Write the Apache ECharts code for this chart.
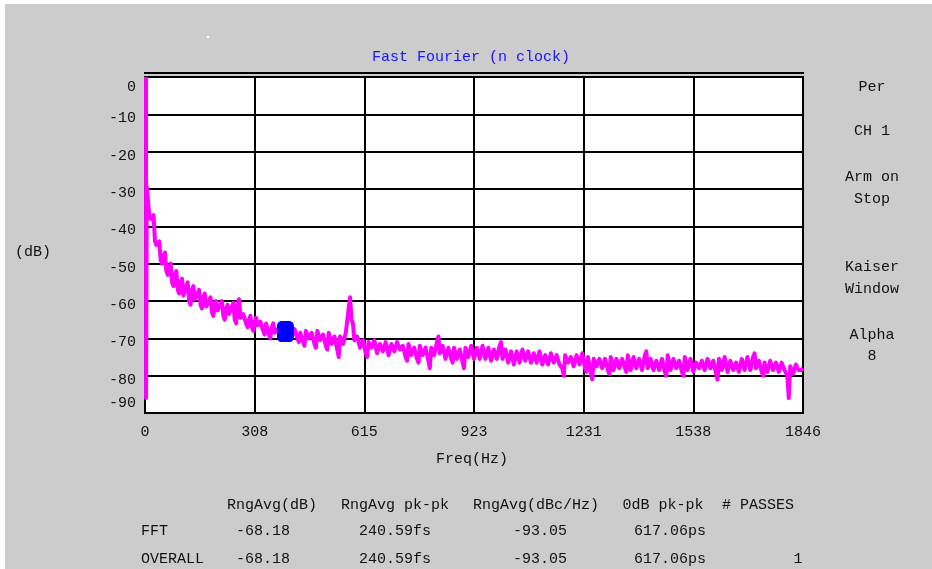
<!DOCTYPE html>
<html>
<head>
<meta charset="utf-8">
<script src="https://cdn.jsdelivr.net/npm/echarts@6/dist/echarts.min.js"></script>
<style>
html,body{margin:0;padding:0;background:#fff;}
#chart{width:932px;height:569px;}
</style>
</head>
<body>
<div id="chart"></div>
<script>
// ---- data ----
const yTickValues = [0, -10, -20, -30, -40, -50, -60, -70, -80, -90];
const xTickLabels = ['0', '308', '615', '923', '1231', '1538', '1846'];
const freqMax = 1846;

// DC line and start of trace (Hz, dB)
const startFreq = [3, 3, 5];
const startDb = [0, -86, -29.5];

// noise trace, readings at uniformly spaced bins up to 1846 Hz (dB)
const traceDb = [
  -30, -38, -37, -45, -44, -50, -47, -53, -50, -56,
  -52, -58, -54, -59, -55, -61, -56, -60, -57, -62,
  -58, -62, -59, -64, -60, -63, -60, -65, -61, -64,
  -60.5, -66, -59.5, -65, -63, -67, -64, -68, -64.5, -67,
  -65, -69, -65.5, -70, -66, -69, -67, -70, -66.5, -69.5,
  -67, -70, -67, -71, -68, -72, -67.5, -70.5, -68, -72.5,
  -67.5, -71, -68.5, -73, -68, -72, -69, -75, -69, -72,
  -68, -59, -66, -70, -69, -73, -70, -75, -70.5, -73,
  -70, -74.5, -71, -73, -70.5, -75, -71, -74, -70.5, -73.5,
  -71.5, -76, -71, -74, -72, -76.5, -71.5, -74, -72, -78,
  -72, -74, -69.5, -74.5, -71.5, -75, -72, -76.5, -72, -75,
  -72.5, -78, -72, -75.5, -71.5, -75, -72, -76, -71.5, -75,
  -72, -76.5, -72.5, -75, -71, -76, -72.5, -76, -73, -77.5,
  -73, -76, -72.5, -76.5, -73, -77, -73.5, -76, -73, -77.5,
  -74, -76.5, -73.5, -77, -74, -76.5, -80, -74, -77, -74.5,
  -78, -74, -76.5, -73.5, -79, -74.5, -81, -75, -78, -75,
  -77.5, -75, -79.5, -74.5, -78, -75, -77.5, -75, -79, -74,
  -78, -74.5, -78.5, -75, -78, -73.5, -78.5, -75, -79, -75.5,
  -78, -75, -80, -74, -78, -75, -77.5, -75.5, -80, -74.5,
  -78, -75, -79.5, -76, -78.5, -75.5, -78, -75, -78.5, -75.5,
  -81, -75, -79, -74.5, -78.5, -75.5, -79, -76, -79.5, -75,
  -78, -74.5, -79, -74, -78.5, -75.5, -80, -76, -78.5, -75.5,
  -79, -76, -79.5, -76, -79, -86, -77, -80, -76.5, -79,
  -78
];

// readings halfway between the bins above (dB)
const traceDbMid = [
  -37, -38, -44, -45, -49, -48, -52, -51, -55, -53,
  -57, -55, -58.5, -56, -60, -57, -59.5, -58, -61, -59,
  -61.5, -60, -63, -61, -62.5, -61, -64, -62, -63.5, -61.5,
  -65, -61, -64.5, -63.5, -66, -65, -67, -65.5, -66.5, -65.5,
  -68, -66, -69, -67, -68.5, -67.5, -69, -67, -69, -67.5,
  -69.5, -67.5, -70, -68.5, -71, -68, -70, -68.5, -71.5, -68,
  -70.5, -69, -72, -68.5, -71.5, -69.5, -73, -69.5, -71.5, -68.5,
  -62, -65, -70.5, -69.5, -72.5, -70.5, -74, -71, -72.5, -70.5,
  -74, -71.5, -73.5, -71, -74.5, -71.5, -73.5, -71, -73, -72,
  -75, -71.5, -74.5, -72.5, -75.5, -72, -74.5, -72.5, -76, -72.5,
  -74.5, -71, -74, -72, -75.5, -72.5, -75.5, -72.5, -75.5, -73,
  -76.5, -72.5, -75, -72, -75.5, -72.5, -75.5, -72, -75.5, -72.5,
  -76, -73, -75.5, -72, -75.5, -73, -76.5, -73.5, -77, -73.5,
  -76.5, -73, -76, -73.5, -76.5, -74, -76.5, -73.5, -77, -74.5,
  -77, -74, -76.5, -74.5, -77, -78, -74.5, -76.5, -75, -77.5,
  -74.5, -77, -74, -78, -75, -79, -75.5, -77.5, -75.5, -78,
  -75.5, -78.5, -75, -78.5, -75.5, -78, -75.5, -78, -74.5, -78.5,
  -75, -78, -75.5, -78.5, -74.5, -78, -75.5, -78.5, -76, -78.5,
  -75.5, -79, -74.5, -78.5, -75.5, -78, -76, -79, -75, -78.5,
  -75.5, -79, -76.5, -78, -76, -78.5, -75.5, -78, -76, -79.5,
  -75.5, -78.5, -75, -79, -76, -78.5, -76.5, -79, -75.5, -78.5,
  -75, -78.5, -75, -78, -76, -79, -76.5, -79, -76, -78.5,
  -76.5, -79, -76.5, -78.5, -80, -77.5, -79.5, -77, -78.5, -78.5
];

// highlighted marker (Hz, dB)
const markerFreq = [394];
const markerDb = [-68.18];

// side annotations
const sideLabels = ['Per', 'CH 1', 'Arm on', 'Stop', 'Kaiser', 'Window', 'Alpha', '8'];
const tableHeaders = ['RngAvg(dB)', 'RngAvg pk-pk', 'RngAvg(dBc/Hz)', '0dB pk-pk', '# PASSES'];
const tableRowNames = ['FFT', 'OVERALL'];
const tableRowFFT = ['-68.18', '240.59fs', '-93.05', '617.06ps', ''];
const tableRowOverall = ['-68.18', '240.59fs', '-93.05', '617.06ps', '1'];

// ---- build ----
const FONT = '"Liberation Mono", "DejaVu Sans Mono", monospace';
const FS = 15;
const traceStep = freqMax / traceDb.length;
const traceData = [];
for (let i = 0; i < startFreq.length; i++) traceData.push([startFreq[i], startDb[i]]);
for (let i = 0; i < traceDb.length; i++) {
  traceData.push([(i + 1) * traceStep, traceDb[i]]);
  if (i < traceDbMid.length) traceData.push([(i + 1.5) * traceStep, traceDbMid[i]]);
}
const markerData = markerFreq.map((f, i) => [f, markerDb[i]]);

const GRID = {left: 145, right: 129, top: 77, bottom: 156};

const sideY = [87, 131, 177, 199, 267, 289, 335, 356];
const headerX = [272, 395, 536, 663, 758];
const valueX = [263, 395, 540, 670, 798];

const graphics = [];
graphics.push({type: 'rect', shape: {x: 0, y: 0, width: 932, height: 4}, style: {fill: '#ffffff'}});
graphics.push({type: 'rect', shape: {x: 0, y: 0, width: 5, height: 569}, style: {fill: '#ffffff'}});
graphics.push({type: 'rect', shape: {x: 207, y: 36, width: 2, height: 2}, style: {fill: '#ffffff'}});
graphics.push({type: 'line', shape: {x1: 144, y1: 73, x2: 804, y2: 73}, style: {stroke: '#000', lineWidth: 2}});
graphics.push({type: 'text', x: 471, y: 57, style: {text: 'Fast Fourier (n clock)', fill: '#1414ff', font: FS + 'px ' + FONT, textAlign: 'center', textVerticalAlign: 'middle'}});
graphics.push({type: 'text', x: 33, y: 252, style: {text: '(dB)', fill: '#111', font: FS + 'px ' + FONT, textAlign: 'center', textVerticalAlign: 'middle'}});
graphics.push({type: 'text', x: 472, y: 459, style: {text: 'Freq(Hz)', fill: '#111', font: FS + 'px ' + FONT, textAlign: 'center', textVerticalAlign: 'middle'}});
sideLabels.forEach((t, i) => {
  graphics.push({type: 'text', x: 872, y: sideY[i], style: {text: t, fill: '#111', font: FS + 'px ' + FONT, textAlign: 'center', textVerticalAlign: 'middle'}});
});
tableHeaders.forEach((t, i) => {
  graphics.push({type: 'text', x: headerX[i], y: 505, style: {text: t, fill: '#111', font: FS + 'px ' + FONT, textAlign: 'center', textVerticalAlign: 'middle'}});
});
const rowY = [531, 559];
tableRowNames.forEach((t, r) => {
  graphics.push({type: 'text', x: 141, y: rowY[r], style: {text: t, fill: '#111', font: FS + 'px ' + FONT, textAlign: 'left', textVerticalAlign: 'middle'}});
});
[tableRowFFT, tableRowOverall].forEach((row, r) => {
  row.forEach((t, i) => {
    if (!t) return;
    graphics.push({type: 'text', x: valueX[i], y: rowY[r], style: {text: t, fill: '#111', font: FS + 'px ' + FONT, textAlign: 'center', textVerticalAlign: 'middle'}});
  });
});

const chart = echarts.init(document.getElementById('chart'), null, {renderer: 'canvas'});
chart.setOption({
  animation: false,
  backgroundColor: '#cccccc',
  textStyle: {fontFamily: FONT},
  grid: Object.assign({show: true, backgroundColor: '#ffffff', borderColor: '#000', borderWidth: 2, containLabel: false}, GRID),
  xAxis: {
    type: 'value', min: 0, max: freqMax, interval: freqMax / (xTickLabels.length - 1),
    axisLine: {show: false}, axisTick: {show: false},
    splitLine: {show: true, lineStyle: {color: '#000', width: 2}},
    axisLabel: {
      show: true, margin: 12, color: '#111', fontFamily: FONT, fontSize: FS,
      showMinLabel: true, showMaxLabel: true, hideOverlap: false,
      formatter: function (v) {
        const idx = Math.round(v / (freqMax / (xTickLabels.length - 1)));
        return xTickLabels[idx] !== undefined ? xTickLabels[idx] : '';
      }
    }
  },
  yAxis: {
    type: 'value', min: yTickValues[yTickValues.length - 1], max: yTickValues[0], interval: 10,
    axisLine: {show: false}, axisTick: {show: false},
    splitLine: {show: true, lineStyle: {color: '#000', width: 2}},
    axisLabel: {
      show: true, margin: 9, color: '#111', fontFamily: FONT, fontSize: FS,
      showMinLabel: true, showMaxLabel: true,
      formatter: function (v) {
        if (v === 0) return '{a|' + v + '}';
        if (v === -90) return '{b|' + v + '}';
        return '{m|' + v + '}';
      },
      rich: {
        a: {padding: [20, 0, 0, 0], fontFamily: FONT, fontSize: FS, color: '#111'},
        b: {padding: [0, 0, 20, 0], fontFamily: FONT, fontSize: FS, color: '#111'},
        m: {padding: [8, 0, 0, 0], fontFamily: FONT, fontSize: FS, color: '#111'}
      }
    }
  },
  series: [
    {
      type: 'line', data: traceData, showSymbol: false, symbol: 'none', clip: true,
      lineStyle: {color: '#ff00ff', width: 4, join: 'round'}, itemStyle: {color: '#ff00ff'}, z: 3
    },
    {
      type: 'scatter', data: markerData, symbol: 'roundRect', symbolSize: [17, 21],
      itemStyle: {color: '#0000ff', opacity: 1}, z: 4
    }
  ],
  graphic: {elements: graphics}
});
</script>
</body>
</html>
